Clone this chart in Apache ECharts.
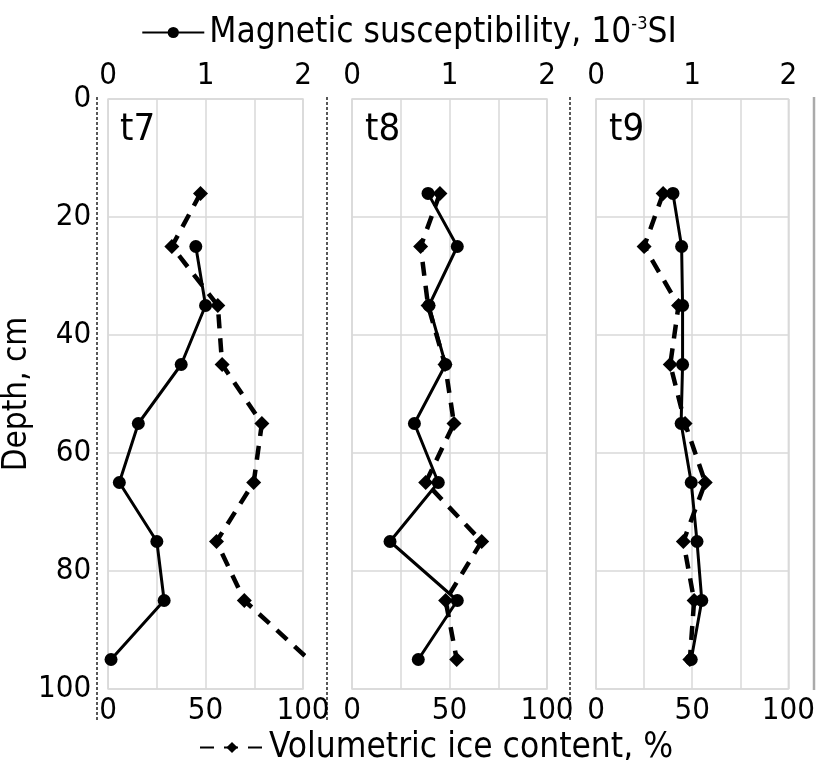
<!DOCTYPE html>
<html>
<head>
<meta charset="utf-8">
<script src="https://cdn.jsdelivr.net/npm/echarts@6/dist/echarts.min.js"></script>
<style>
  html, body { margin: 0; padding: 0; background: #fff; }
  #chart { width: 818px; height: 760px; }
</style>
</head>
<body>
<div id="chart"></div>
<script>
// depth of each sample, cm
const depths = [16, 25, 35, 45, 55, 65, 75, 85, 95];
const panels = ['t7', 't8', 't9'];
// magnetic susceptibility, 10^-3 SI (null = no sample)
const magT7 = [null, 0.90, 1.00, 0.75, 0.31, 0.115, 0.50, 0.575, 0.03];
const magT8 = [0.78, 1.08, 0.79, 0.96, 0.64, 0.885, 0.39, 1.08, 0.68];
const magT9 = [0.80, 0.89, 0.90, 0.90, 0.885, 0.99, 1.05, 1.10, 0.99];
// volumetric ice content, %
const iceT7 = [47.4, 32.7, 56.3, 58.5, 78.9, 74.7, 55.6, 69.9, 103];
const iceT8 = [45.1, 35.2, 39, 47.7, 52.3, 37.8, 66.5, 48, 53.7];
const iceT9 = [34.9, 25, 42.9, 38.6, 46.3, 56.8, 45.4, 51, 48.8];
const depthTicks = [0, 20, 40, 60, 80, 100];

const magName = 'Magnetic susceptibility, 10{sup|-3}SI';
const iceName = 'Volumetric ice content, %';
const FONT = '"Liberation Sans Narrow", "DejaVu Sans Condensed", "Noto Sans", sans-serif';

const mags = [magT7, magT8, magT9];
const ices = [iceT7, iceT8, iceT9];

function pairs(vals) {
    let out = [];
    vals.forEach((v, i) => {
        if (v !== null) out.push([v, depths[i]]);
    });
    return out;
}

const chart = echarts.init(document.getElementById('chart'));

const gridLefts = [107, 352, 596];
const gridWidths = [196, 195, 196];

let grid = [], xAxis = [], yAxis = [], series = [], title = [];
panels.forEach((p, k) => {
    grid.push({
        left: gridLefts[k], width: gridWidths[k], top: 99, height: 590,
        show: true, borderColor: '#d9d9d9', borderWidth: 1.5
    });
    // top axis: magnetic susceptibility
    xAxis.push({
        type: 'value', gridIndex: k, position: 'top', min: 0, max: 2, interval: 0.5,
        axisLine: { show: false }, axisTick: { show: false },
        splitLine: { show: true, lineStyle: { color: '#d9d9d9', width: 1.5 } },
        axisLabel: {
            margin: 8, fontSize: 31, color: '#000', fontFamily: FONT,
            formatter: v => (v % 1 === 0 ? String(v) : '')
        }
    });
    // bottom axis: ice content
    xAxis.push({
        type: 'value', gridIndex: k, position: 'bottom', min: 0, max: 100, interval: 50,
        axisLine: { show: false }, axisTick: { show: false },
        splitLine: { show: false },
        axisLabel: { margin: 6, fontSize: 31, color: '#000', fontFamily: FONT }
    });
    yAxis.push({
        type: 'value', gridIndex: k, inverse: true, min: 0, max: 100, interval: 20,
        name: k === 0 ? 'Depth, cm' : '',
        nameLocation: 'middle', nameGap: 62, nameRotate: 90,
        nameTextStyle: { fontSize: 33, color: '#000', fontFamily: FONT },
        axisLine: { show: false }, axisTick: { show: false },
        splitLine: { show: true, lineStyle: { color: '#d9d9d9', width: 1.5 } },
        axisLabel: {
            show: k === 0, margin: 17, fontSize: 31, color: '#000', fontFamily: FONT,
            formatter: v => (depthTicks.includes(v) ? String(v) : '')
        }
    });
    title.push({
        text: p, left: gridLefts[k] + 8, top: 106,
        textStyle: { fontSize: 38, fontWeight: 'normal', color: '#000', fontFamily: FONT }
    });
    series.push({
        name: magName, type: 'line', xAxisIndex: 2 * k, yAxisIndex: k,
        data: pairs(mags[k]), symbol: 'circle', symbolSize: 13,
        itemStyle: { color: '#000' },
        lineStyle: { color: '#000', width: 3 },
        clip: true, z: 3
    });
    series.push({
        name: iceName, type: 'line', xAxisIndex: 2 * k + 1, yAxisIndex: k,
        data: pairs(ices[k]), symbol: 'diamond', symbolSize: 15,
        itemStyle: { color: '#000' },
        lineStyle: { color: '#000', width: 4.5, type: [14, 10] },
        clip: true, z: 2
    });
});

// panel separators
const sep = (x, y2, dashed) => ({
    type: 'line', shape: { x1: x, y1: 97, x2: x, y2: y2 },
    style: { stroke: dashed ? '#222' : '#aaa', lineWidth: dashed ? 1.5 : 2.5, lineDash: dashed ? [3, 2] : null }
});

const option = {
    backgroundColor: '#fff',
    animation: false,
    title: title,
    legend: [
        {
            data: [magName], left: 'center', top: 10, itemWidth: 62, itemHeight: 14, itemGap: 10,
            textStyle: {
                fontSize: 35, color: '#000', fontFamily: FONT,
                rich: { sup: { fontSize: 18, verticalAlign: 'top', padding: [0, 0, 16, 0], fontFamily: FONT } }
            }
        },
        {
            data: [iceName], left: 194, top: 725, itemWidth: 64, itemHeight: 14, itemGap: 8,
            textStyle: { fontSize: 35, color: '#000', fontFamily: FONT }
        }
    ],
    grid: grid,
    xAxis: xAxis,
    yAxis: yAxis,
    series: series,
    graphic: [sep(97, 720, true), sep(327, 720, true), sep(570, 720, true), sep(814, 690, false)]
};
chart.setOption(option);
</script>
</body>
</html>
